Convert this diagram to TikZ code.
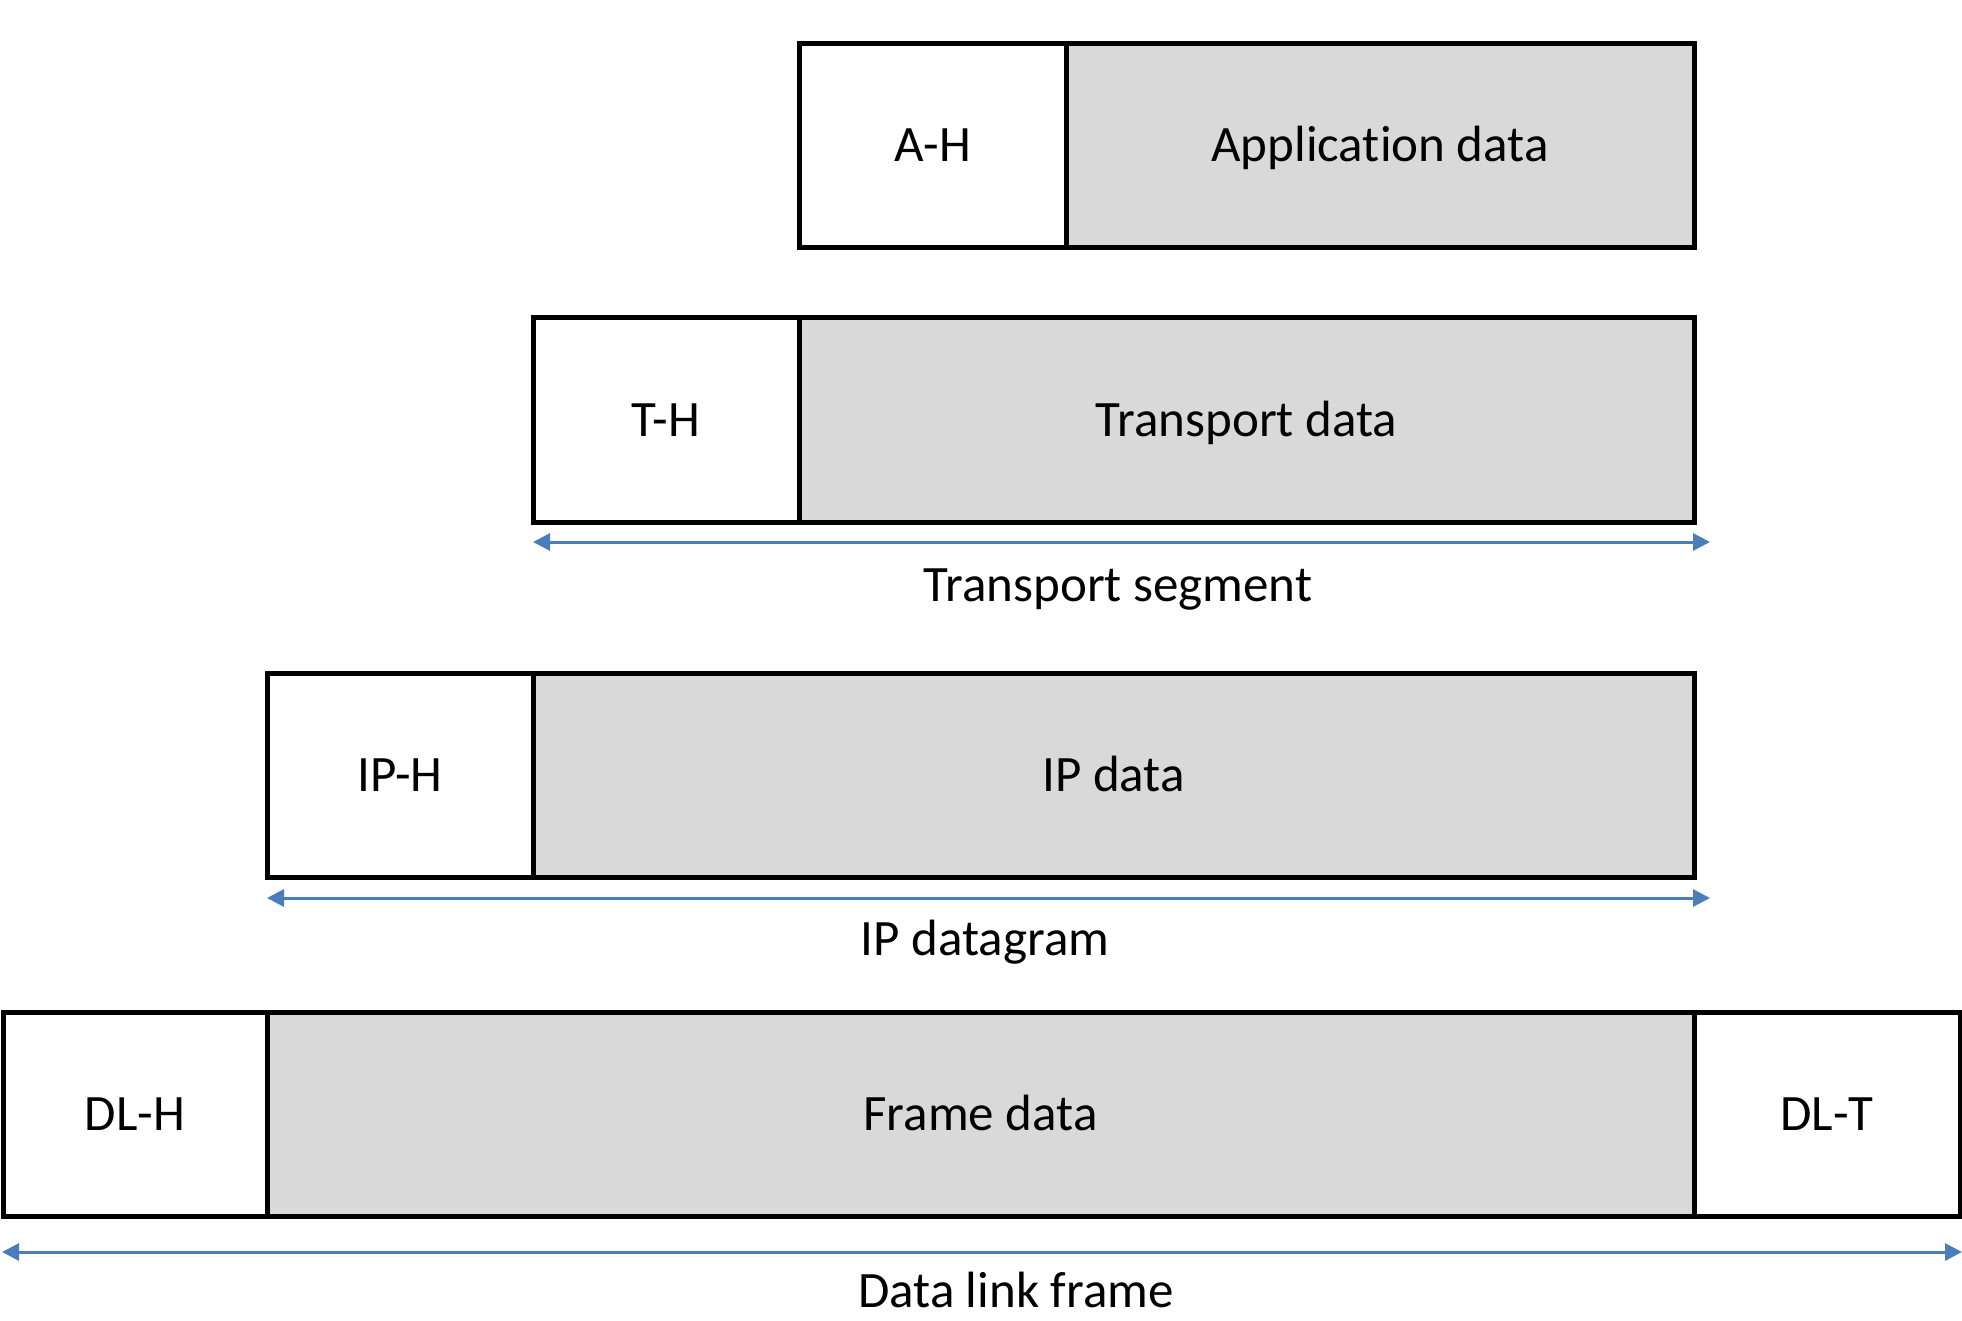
\documentclass[tikz,border=0pt]{standalone}
\usepackage{fontspec}
\setmainfont[Ligatures={NoCommon}]{Carlito}
\usetikzlibrary{arrows.meta}
\definecolor{arrowblue}{HTML}{4A7EBB}
\definecolor{datagrey}{HTML}{D9D9D9}
\begin{document}
\begin{tikzpicture}[x=1pt,y=-1pt,
  cell/.style={draw=black, line width=5pt, inner sep=0pt, outer sep=0pt,
    text height=33pt, text depth=0pt, font=\fontsize{51}{61}\selectfont},
  hdr/.style={cell, fill=white},
  dat/.style={cell, fill=datagrey},
  span/.style={draw=arrowblue, line width=3pt,
    {Triangle[length=17pt,width=17pt]}-{Triangle[length=17pt,width=17pt]}},
  lbl/.style={anchor=base, inner sep=0pt, font=\fontsize{51}{61}\selectfont}]
\useasboundingbox (0,0) rectangle (1962,1320);
% row 1
\node[dat, minimum width=628pt, minimum height=204pt] (ad) at (1380,145) {Application data};
\node[hdr, minimum width=267pt, minimum height=204pt] (ah) at (932.5,145) {A-H};
% row 2
\node[dat, minimum width=895pt, minimum height=205pt] (td) at (1246.5,419.5) {Transport data};
\node[hdr, minimum width=266pt, minimum height=205pt] (th) at (666,419.5) {T-H};
% row 3
\node[dat, minimum width=1161pt, minimum height=204pt] (id) at (1113.5,775) {IP data};
\node[hdr, minimum width=266pt, minimum height=204pt] (ih) at (400,775) {IP-H};
% row 4
\node[dat, minimum width=1427pt, minimum height=204pt] (fd) at (980.5,1114) {Frame data};
\node[hdr, minimum width=264pt, minimum height=204pt] (dh) at (135,1114) {DL-H};
\node[hdr, minimum width=266pt, minimum height=204pt] (dt) at (1827,1114) {DL-T};
% spans
\coordinate (ts1) at (533,542);
\coordinate (ts2) at (1710,542);
\coordinate (ip1) at (267,898);
\coordinate (ip2) at (1710,898);
\coordinate (dl1) at (2,1252);
\coordinate (dl2) at (1962,1252);
\draw[span] (ts1) -- (ts2);
\draw[span] (ip1) -- (ip2);
\draw[span] (dl1) -- (dl2);
\node[lbl] (tsl) at (1118,601) {Transport segment};
\node[lbl] (ipl) at (985,955) {IP datagram};
\node[lbl] (dll) at (1016,1307) {Data link frame};
\end{tikzpicture}
\end{document}
